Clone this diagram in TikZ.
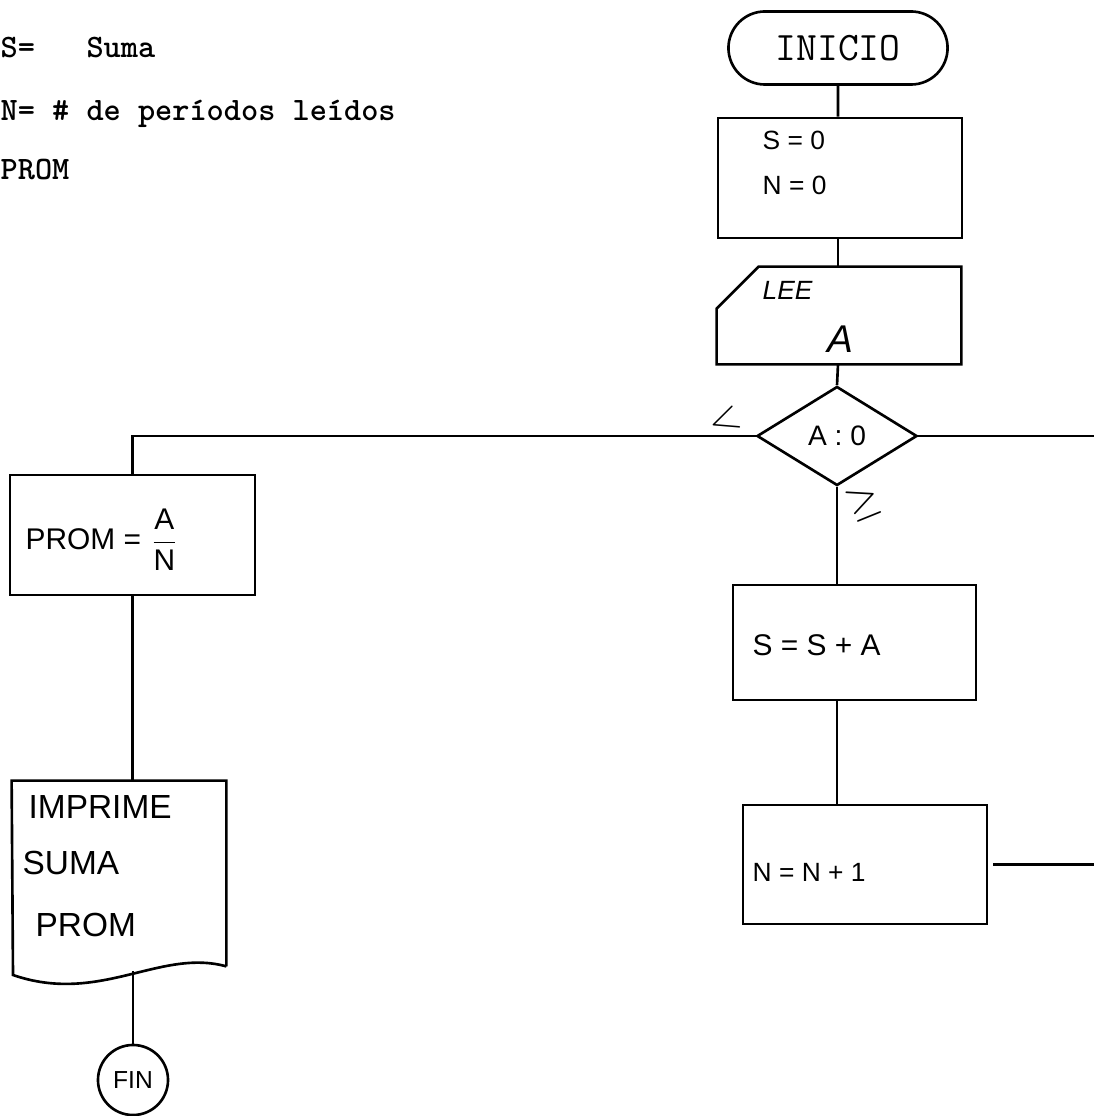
\documentclass[tikz,border=0pt]{standalone}
\usepackage{fontspec}
\usepackage{amsmath,amssymb}
\usetikzlibrary{positioning,calc,shapes.geometric,shapes.misc}
\newfontfamily\handfont{Liberation Sans}
\tikzset{conn/.style={line width=0.75pt,draw=black},
  box/.style={conn,rectangle,inner sep=0pt},
  hand/.style={font=\handfont\fontsize{8}{10}\selectfont,inner sep=0pt},
  legend/.style={font=\ttfamily\bfseries\fontsize{9.3}{11}\selectfont,inner sep=0pt,anchor=base west},
  termbox/.style={conn,rounded rectangle,minimum width=2.19cm,minimum height=0.73cm,inner sep=0pt,font=\ttfamily\fontsize{11.5}{13}\selectfont},
  decision/.style={conn,diamond,minimum width=1.6cm,minimum height=0.99cm,inner sep=0pt,font=\handfont\fontsize{8}{10}\selectfont}}

\begin{document}
\begin{tikzpicture}[x=0.01cm,y=-0.01cm]
\useasboundingbox (0,0) rectangle (1094,1116);
% legend
\node[legend] (legS) at (0,58) {S=\ \ \ Suma};
\node[legend] (legN) at (0,121) {N= \# de períodos leídos};
\node[legend] (legP) at (0,180) {PROM};
% main column
\node[termbox] (ini) at (838,48) {INICIO};
\node[box,minimum width=2.44cm,minimum height=1.20cm] (init) at (840,178) {};
\node[hand,anchor=west,font=\handfont\fontsize{7.5}{9}\selectfont] (initS) at (762,140) {S = 0};
\node[hand,anchor=west,font=\handfont\fontsize{7.5}{9}\selectfont] (initN) at (762,185) {N = 0};
\node[box,draw=none,minimum width=2.42cm,minimum height=0.95cm] (lee) at (839,315.5) {};
\draw[conn] (lee.north east) -- ([xshift=0.42cm]lee.north west) -- ([yshift=-0.42cm]lee.north west) -- (lee.south west) -- (lee.south east) -- cycle;
\node[hand,anchor=west,font=\handfont\itshape\fontsize{7.5}{9}\selectfont] (leeT) at (762,290) {LEE};
\node[hand,font=\handfont\itshape\fontsize{11}{13}\selectfont] (leeA) at (840,339) {A};
\node[decision] (cmp) at (837,436) {A : 0};
\node[hand,rotate=20,font=\fontsize{12}{14}\selectfont] (lt) at (725,421) {$<$};
\node[hand,rotate=22,font=\fontsize{12}{14}\selectfont] (ge) at (864,503) {$\geq$};
\node[box,minimum width=2.43cm,minimum height=1.15cm] (sum) at (854.5,642.5) {};
\node[hand,anchor=west,font=\handfont\fontsize{8.5}{10}\selectfont] (sumT) at (752,645) {S = S + A};
\node[box,minimum width=2.44cm,minimum height=1.19cm] (inc) at (865,864.5) {};
\node[hand,anchor=west,font=\handfont\fontsize{7.5}{9}\selectfont] (incT) at (752,872) {N = N + 1};
% left column
\node[box,minimum width=2.45cm,minimum height=1.20cm] (prom) at (132.5,535) {};
\node[hand,anchor=west,font=\handfont\fontsize{8.5}{10}\selectfont] (promT) at (25,540) {PROM = $\dfrac{\text{A}}{\text{N}}$};
\node[box,draw=none,minimum width=2.12cm,minimum height=1.83cm] (imp) at (119,873.5) {};
\draw[conn] (imp.south east) -- (imp.north east) -- (imp.north west) -- (13,975) .. controls (100,1005) and (160,948) .. (imp.south east);
\node[hand,anchor=west,font=\handfont\fontsize{9.5}{11}\selectfont] (impA) at (28,807) {IMPRIME};
\node[hand,anchor=west,font=\handfont\fontsize{9.5}{11}\selectfont] (impB) at (22,863) {SUMA};
\node[hand,anchor=west,font=\handfont\fontsize{9.5}{11}\selectfont] (impC) at (35,925) {PROM};
\node[conn,circle,minimum size=0.70cm,inner sep=0pt,font=\handfont\fontsize{7}{9}\selectfont] (fin) at (133,1080) {FIN};
% connectors
\coordinate (exitR) at (1094,0);
\coordinate (impW) at (133,971);
\draw[conn] (ini) -- (ini |- init.north);
\draw[conn] (ini |- init.south) -- (ini |- lee.north);
\draw[conn] (ini |- lee.south) -- (cmp.north);
\draw[conn] (cmp.south) -- (cmp.south |- sum.north);
\draw[conn] (cmp.south |- sum.south) -- (cmp.south |- inc.north);
\draw[conn] (cmp.west) -| (prom.north);
\draw[conn] (cmp.east) -- (cmp.east -| exitR);
\draw[conn] ([xshift=0.05cm]inc.east) -- (inc.east -| exitR);
\draw[conn] (prom.south) -- (prom.south |- imp.north);
\draw[conn] (impW) -- (fin);
\end{tikzpicture}
\end{document}
